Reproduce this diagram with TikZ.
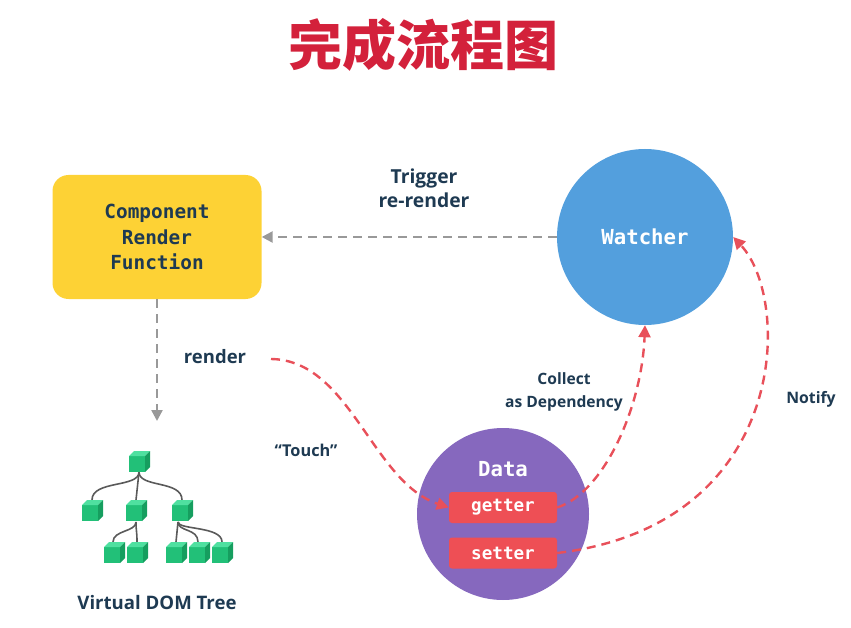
\documentclass[tikz,border=0pt]{standalone}
\usepackage{fontspec}
\setmainfont{Open Sans}
\setmonofont{DejaVu Sans Mono}
\newfontfamily\cjk{Noto Sans CJK SC}
\usetikzlibrary{arrows.meta}
\definecolor{txtdark}{HTML}{1E3A52}
\definecolor{yel}{HTML}{FDD235}
\definecolor{wblue}{HTML}{539FDD}
\definecolor{dpurple}{HTML}{8668BE}
\definecolor{gsred}{HTML}{EE4F55}
\definecolor{arred}{HTML}{E8505A}
\definecolor{gryline}{HTML}{999999}
\definecolor{titred}{HTML}{D3213B}
\definecolor{cfront}{HTML}{22C078}
\definecolor{ctop}{HTML}{4FE0A0}
\definecolor{cside}{HTML}{169E5F}
\definecolor{branch}{HTML}{5A5A5A}
\tikzset{
  lbl/.style={font=\fontsize{17}{21}\selectfont\bfseries, text=txtdark, align=center, inner sep=0pt},
  lblsize/.style={font=\fontsize{#1}{#1*1.25}\selectfont\bfseries},
  graydash/.style={draw=gryline, line width=2.4pt, dash pattern=on 9pt off 6pt, -{Triangle[length=11pt,width=11pt]}},
  reddash/.style={draw=arred, line width=2.4pt, dash pattern=on 9pt off 6pt, -{Triangle[length=12pt,width=12pt]}},
  gsbox/.style={fill=gsred, rounded corners=3pt, minimum width=108pt, minimum height=31pt, inner sep=0pt, text=white, font=\ttfamily\bfseries\fontsize{17.6}{19}\selectfont},
  vcube/.pic={
    \fill[cfront] (-10,-6) rectangle (6,10);
    \fill[ctop] (-10,-6) -- (-5,-11) -- (11,-11) -- (6,-6) -- cycle;
    \fill[cside] (6,-6) -- (11,-11) -- (11,5) -- (6,10) -- cycle;
  }
}
\begin{document}
\begin{tikzpicture}[x=1pt,y=-1pt]
\useasboundingbox (0,0) rectangle (851,628);

% title
\node[font=\cjk\bfseries\fontsize{54}{60}\selectfont, text=titred, inner sep=0pt] (title) at (423,45) {完成流程图};

% component box
\node[fill=yel, rounded corners=16pt, minimum width=209pt, minimum height=124pt, inner sep=0pt,
      font=\ttfamily\bfseries\fontsize{19.4}{25.5}\selectfont, text=txtdark, align=center] (comp) at (157,237)
  {Component\\Render\\Function};

% watcher
\node[circle, fill=wblue, minimum size=176pt, inner sep=0pt, text=white,
      font=\ttfamily\bfseries\fontsize{20.7}{24}\selectfont] (watcher) at (645,237) {Watcher};

% data
\node[circle, fill=dpurple, minimum size=172pt, inner sep=0pt] (data) at (503,514) {};
\node[text=white, font=\ttfamily\bfseries\fontsize{20.7}{22}\selectfont, inner sep=0pt] (dlabel) at (503,469) {Data};
\node[gsbox] (getter) at (503,507.5) {getter};
\node[gsbox] (setter) at (503,553) {setter};

% labels
\node[lbl, font=\fontsize{19.3}{24}\selectfont\bfseries] (trig) at (424,188) {Trigger\\re-render};
\node[lbl, font=\fontsize{18.5}{22}\selectfont\bfseries] (rend) at (215,357) {render};
\node[lbl, font=\fontsize{16.3}{20}\selectfont\bfseries] (touch) at (306,450) {“Touch”};
\node[lbl, font=\fontsize{15.6}{23}\selectfont\bfseries] (coll) at (564,392) {Collect\\as Dependency};
\node[lbl, font=\fontsize{15.8}{20}\selectfont\bfseries] (notif) at (811,399) {Notify};
\node[lbl, font=\fontsize{18.6}{22}\selectfont\bfseries] (vdt) at (157,603) {Virtual DOM Tree};

% gray arrows
\draw[graydash] (watcher.west) -- (comp.east);
\coordinate (treetop) at (157,421);
\draw[graydash] (comp.south) -- (treetop);

% red arrows
\coordinate (rstart) at (271,359);
\draw[reddash] (rstart) .. controls (350,360) and (372,482) .. (getter.west);
\draw[reddash] (getter.east) .. controls (605,492) and (642,405) .. (watcher.south);
\draw[reddash] (setter.east) .. controls (790,525) and (792,300) .. (watcher.east);

% tree branches
\begin{scope}[draw=branch, line width=1.6pt]
  \draw (139,472) .. controls (139,488) and (92,480) .. (92,500);
  \draw (139,472) -- (136,500);
  \draw (139,472) .. controls (139,488) and (182,480) .. (182,500);
  \draw (136,522) .. controls (136,532) and (113,530) .. (113,542);
  \draw (136,522) .. controls (136,532) and (137,530) .. (137,542);
  \draw (178,522) -- (176,542);
  \draw (178,522) .. controls (178,532) and (198,528) .. (198,542);
  \draw (178,522) .. controls (178,530) and (222,526) .. (222,542);
\end{scope}
\pic at (139,462) {vcube};
\pic at (92,511) {vcube};
\pic at (136,511) {vcube};
\pic at (182,511) {vcube};
\pic at (114,553) {vcube};
\pic at (137,553) {vcube};
\pic at (176,553) {vcube};
\pic at (199,553) {vcube};
\pic at (222,553) {vcube};
\end{tikzpicture}
\end{document}
